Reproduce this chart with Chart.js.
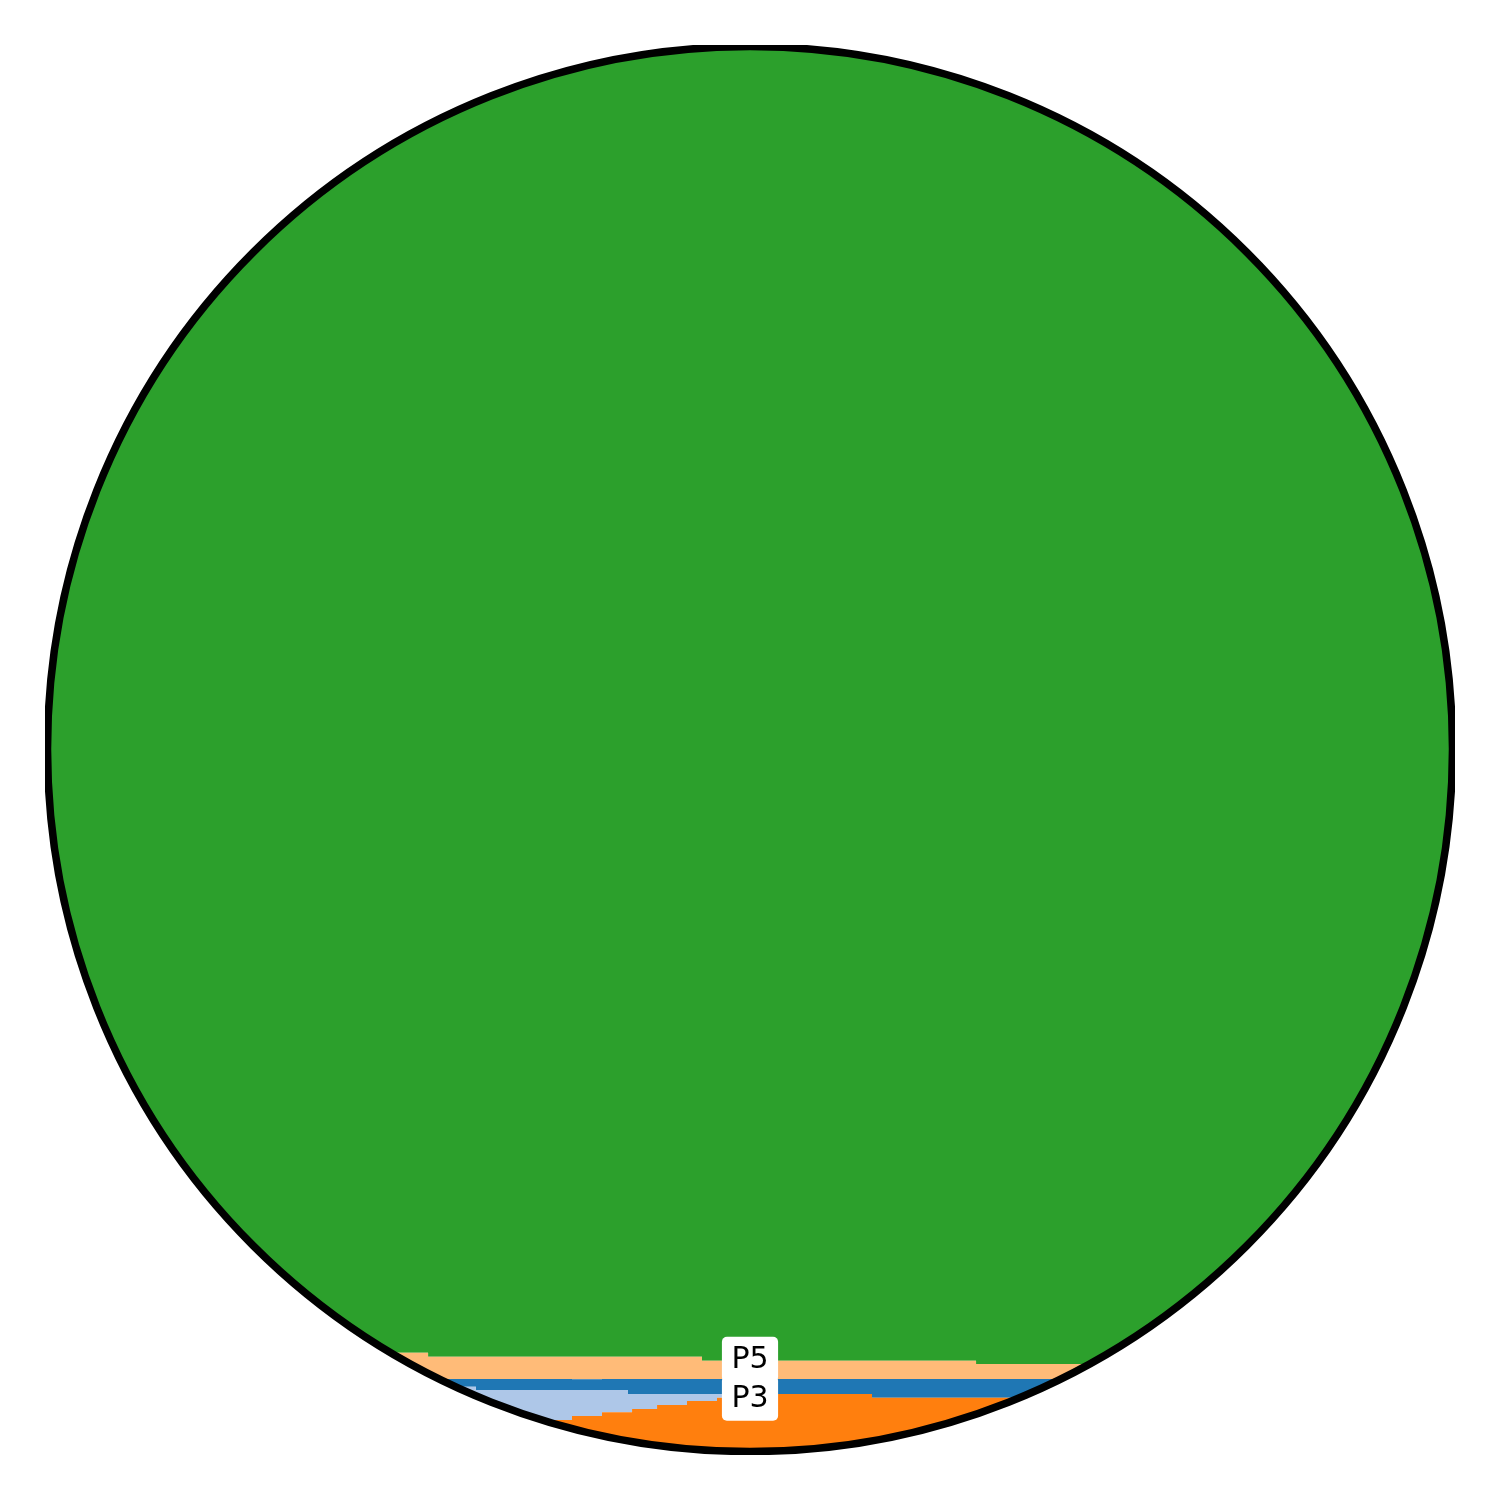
<!DOCTYPE html>
<html>
<head>
<meta charset="utf-8">
<style>
  html, body { margin: 0; padding: 0; background: #ffffff; }
  #c { display: block; }
</style>
<script src="https://cdn.jsdelivr.net/npm/chart.js@4.4.1/dist/chart.umd.min.js"></script>
</head>
<body>
<canvas id="c" width="1500" height="1500"></canvas>
<script>
// Step positions along the horizontal axis (0..100)
const xBreaks = [0, 27.07, 30.48, 37.32, 39.46, 41.31, 41.60, 43.38, 45.51, 46.58, 47.65, 49.79, 58.69, 66.10, 100];

// Series values (percent share, stacked bottom to top)
const seriesNames = ['P3', 'P2', 'P1', 'P4', 'P5'];
const p3 = [2.28, 2.28, 2.28, 2.56, 2.83, 2.83, 3.06, 3.35, 3.63, 3.63, 3.87, 4.13, 3.87, 3.87, 3.87];
const p2 = [2.37, 2.37, 2.14, 1.85, 1.59, 1.30, 1.07, 0.78, 0.50, 0.50, 0.26, 0, 0, 0, 0];
const p1 = [0.55, 0.55, 0.78, 0.78, 0.78, 1.07, 1.07, 1.07, 1.07, 1.07, 1.07, 1.07, 1.33, 1.33, 1.33];
const p4 = [1.87, 1.59, 1.59, 1.59, 1.59, 1.59, 1.59, 1.59, 1.59, 1.30, 1.30, 1.30, 1.30, 1.07, 1.07];
const p5 = [92.93, 93.21, 93.21, 93.21, 93.21, 93.21, 93.21, 93.21, 93.21, 93.50, 93.50, 93.50, 93.50, 93.73, 93.73];
const seriesColors = ['#ff7f0e', '#aec7e8', '#1f77b4', '#ffbb78', '#2ca02c'];

// In-chart labels (drawn in this order)
const labelNames = ['P3', 'P5'];
const labelX = [50, 50];
const labelY = [4.01, 6.79];

const seriesValues = [p3, p2, p1, p4, p5];

const datasets = seriesValues.map((vals, i) => ({
  label: seriesNames[i],
  data: vals.map((v, j) => ({ x: xBreaks[j], y: v })),
  stepped: true,
  fill: i === 0 ? 'origin' : '-1',
  backgroundColor: seriesColors[i],
  borderColor: 'rgba(0,0,0,0)',
  borderWidth: 0,
  pointRadius: 0,
  pointHoverRadius: 0,
  tension: 0
}));

function circleGeom(chart) {
  const a = chart.chartArea;
  return {
    cx: (a.left + a.right) / 2,
    cy: (a.top + a.bottom) / 2 - 1,
    r: (a.right - a.left) / 2 + 0.5
  };
}

const circlePlugin = {
  id: 'circleClip',
  beforeDatasetsDraw(chart) {
    const ctx = chart.ctx;
    const g = circleGeom(chart);
    ctx.save();
    ctx.beginPath();
    ctx.arc(g.cx, g.cy, g.r, 0, Math.PI * 2);
    ctx.clip();
  },
  afterDatasetsDraw(chart) {
    chart.ctx.restore();
  },
  afterDraw(chart) {
    const ctx = chart.ctx;
    const g = circleGeom(chart);
    const a = chart.chartArea;
    // circle frame, clipped to a square slightly larger than the plot area
    ctx.save();
    ctx.beginPath();
    ctx.rect(a.left - 3, a.top - 3, (a.right - a.left) + 6, (a.bottom - a.top) + 6);
    ctx.clip();
    ctx.beginPath();
    ctx.arc(g.cx, g.cy, g.r, 0, Math.PI * 2);
    ctx.lineWidth = 7.5;
    ctx.strokeStyle = '#000000';
    ctx.stroke();
    ctx.restore();

    // labels
    const xs = chart.scales.x, ys = chart.scales.y;
    ctx.save();
    ctx.font = '30px "DejaVu Sans"';
    ctx.textAlign = 'center';
    ctx.textBaseline = 'alphabetic';
    for (let i = 0; i < labelNames.length; i++) {
      const px = xs.getPixelForValue(labelX[i]);
      const py = ys.getPixelForValue(labelY[i]);
      const w = ctx.measureText(labelNames[i]).width;
      const bx = px - w / 2 - 9.5;
      const bw = w + 19;
      const by = py - 20;
      const bh = 45;
      ctx.beginPath();
      if (ctx.roundRect) {
        ctx.roundRect(bx, by, bw, bh, 5);
      } else {
        ctx.rect(bx, by, bw, bh);
      }
      ctx.fillStyle = '#ffffff';
      ctx.fill();
      ctx.fillStyle = '#000000';
      ctx.fillText(labelNames[i], px, py + 11);
    }
    ctx.restore();
  }
};

new Chart(document.getElementById('c'), {
  type: 'line',
  data: { datasets },
  options: {
    responsive: false,
    animation: false,
    devicePixelRatio: 1,
    layout: { padding: { left: 48, right: 48, top: 48, bottom: 48 } },
    plugins: {
      legend: { display: false },
      tooltip: { enabled: false },
      filler: { propagate: false }
    },
    scales: {
      x: { type: 'linear', min: 0, max: 100, display: false },
      y: { stacked: true, min: 0, max: 100, display: false }
    },
    elements: { line: { borderWidth: 0 } }
  },
  plugins: [circlePlugin]
});
</script>
</body>
</html>
